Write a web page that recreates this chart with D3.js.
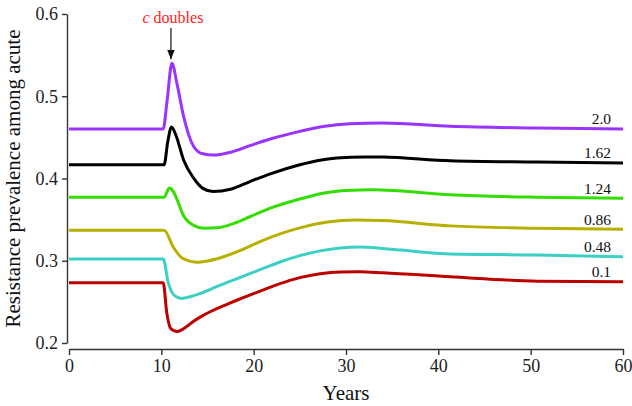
<!DOCTYPE html>
<html>
<head>
<meta charset="utf-8">
<script src="https://cdn.jsdelivr.net/npm/d3@7"></script>
<style>
  body { margin: 0; background: #fff; }
  svg { display: block; font-family: "Liberation Serif", "Times New Roman", serif; }
  .axis path, .axis line { stroke: #333; stroke-width: 1.4; }
  .axis text { fill: #222; font-family: "Liberation Serif", "Times New Roman", serif; font-size: 18px; }
</style>
</head>
<body>
<script>
// tick values
var xTicks = [0, 10, 20, 30, 40, 50, 60];
var yTicks = [0.2, 0.3, 0.4, 0.5, 0.6];

// series labels (value of the parameter) and colours
var seriesLabels = ["0.1", "0.48", "0.86", "1.24", "1.62", "2.0"];
var seriesColors = ["#bb0000", "#3ccfc6", "#b8b000", "#33dd00", "#000000", "#9933ff"];

// [year, resistance prevalence]
var s010 = [[0,0.2732],[10.2,0.2732],[10.6,0.2359],[11.0,0.218],[11.7,0.2140],[12.2,0.2160],[12.8,0.2205],
  [13.46,0.2262],[14.2,0.2315],[15.5,0.2392],[17.1,0.2470],[18.5,0.2535],[20.7,0.2630],[22.85,0.2722],
  [25,0.2795],[27.2,0.2843],[29.35,0.2864],[31.5,0.2866],[34,0.2854],[41.3,0.2805],[50.7,0.2752],[60,0.2744]];
var s048 = [[0,0.3021],[10.2,0.3021],[10.77,0.2724],[11.4,0.258],[12.2,0.2542],[13.2,0.2565],[14.2,0.2602],
  [16,0.2685],[18.5,0.2795],[20.7,0.2892],[22.85,0.2985],[25,0.3062],[27.2,0.3120],[29.35,0.3156],
  [31.5,0.3168],[34,0.3150],[36,0.313],[41.3,0.3082],[50.7,0.307],[60,0.3049]];
var s086 = [[0,0.337],[10.3,0.337],[11.3,0.3166],[12.3,0.303],[13.8,0.2983],[15,0.2998],[16.5,0.3040],
  [18.5,0.3122],[20.7,0.3232],[22.85,0.3326],[25,0.3400],[28,0.3470],[31,0.3495],[34,0.3488],[41.3,0.3424],
  [50.7,0.3395],[60,0.3383]];
var s124 = [[0,0.3772],[10.3,0.3772],[10.86,0.3883],[11.3,0.384],[11.66,0.3756],[12.4,0.355],[13.5,0.343],
  [14.6,0.3395],[16,0.340],[18,0.346],[19.6,0.3535],[21.8,0.3639],[25,0.375],[27.5,0.3820],[30,0.3855],
  [33,0.3862],[41.3,0.3801],[50.7,0.3772],[60,0.376]];
var s162 = [[0,0.4167],[10.3,0.4167],[10.7,0.445],[11.1,0.4627],[11.6,0.452],[12.4,0.4228],[13.5,0.4004],
  [14.5,0.388],[15.6,0.3841],[17.5,0.387],[19.6,0.3963],[21.8,0.4057],[25,0.4167],[27,0.4220],[29,0.4250],
  [32,0.4262],[34,0.426],[41.3,0.4216],[50.7,0.42],[60,0.4188]];
var s200 = [[0,0.4602],[10.2,0.4602],[10.6,0.492],[11.15,0.540],[11.7,0.515],[12.4,0.476],[13.5,0.439],
  [14.5,0.430],[15.6,0.4285],[17.5,0.432],[19.6,0.440],[21.8,0.448],[25,0.4573],[27.5,0.4632],[30.4,0.4667],
  [34,0.4675],[41.3,0.4634],[50.7,0.4614],[60,0.4602]];

var seriesData = [s010, s048, s086, s124, s162, s200];
var peakYear = 11.15, peakValue = 0.540;

var width = 632, height = 406;
var margin = { top: 14, right: 9, bottom: 63, left: 69 };
var serif = "'Liberation Serif', 'Times New Roman', serif";

var x = d3.scaleLinear().domain([0, 60]).range([margin.left, width - margin.right]);
var y = d3.scaleLinear().domain([0.2, 0.6]).range([height - margin.bottom, margin.top]);

var svg = d3.select("body").append("svg")
    .attr("width", width)
    .attr("height", height);

// axes, detached from each other
svg.append("g")
    .attr("class", "y axis")
    .attr("transform", "translate(" + (margin.left - 2) + ",0)")
    .call(d3.axisLeft(y).tickValues(yTicks).tickFormat(d3.format(".1f"))
        .tickSize(5).tickSizeOuter(0).tickPadding(4));

svg.append("g")
    .attr("class", "x axis")
    .attr("transform", "translate(0," + (height - margin.bottom + 6) + ")")
    .call(d3.axisBottom(x).tickValues(xTicks).tickFormat(d3.format("d"))
        .tickSize(6).tickSizeOuter(0).tickPadding(4));

svg.selectAll(".axis").attr("font-family", null).attr("font-size", null);
svg.selectAll(".axis text").style("font-family", serif).style("font-size", "18px");
svg.selectAll(".axis .domain").attr("fill", "none");

var line = d3.line()
    .x(function(d) { return x(d[0]); })
    .y(function(d) { return y(d[1]); })
    .curve(d3.curveMonotoneX);

svg.append("g").selectAll("path")
    .data(seriesData)
    .enter().append("path")
    .attr("d", line)
    .attr("fill", "none")
    .attr("stroke", function(d, i) { return seriesColors[i]; })
    .attr("stroke-width", 3);

svg.append("g").selectAll("text")
    .data(seriesData)
    .enter().append("text")
    .attr("x", x(60) - 12)
    .attr("y", function(d) { return y(d[d.length - 1][1]) - 10; })
    .attr("dy", "0.35em")
    .attr("text-anchor", "end")
    .style("font-size", "15.5px")
    .attr("fill", "#111")
    .text(function(d, i) { return seriesLabels[i]; });

// axis titles
svg.append("text")
    .attr("x", (x(0) + x(60)) / 2)
    .attr("y", 400)
    .attr("text-anchor", "middle")
    .style("font-size", "21px")
    .attr("fill", "#111")
    .text("Years");

svg.append("text")
    .attr("transform", "translate(20," + ((y(0.2) + y(0.6)) / 2) + ") rotate(-90)")
    .attr("text-anchor", "middle")
    .style("font-size", "21px")
    .attr("fill", "#111")
    .text("Resistance prevalence among acute");

// annotation
var defs = svg.append("defs");
defs.append("marker")
    .attr("id", "arrow")
    .attr("viewBox", "0 0 10 10")
    .attr("refX", 10).attr("refY", 5)
    .attr("markerWidth", 8).attr("markerHeight", 8)
    .attr("orient", "auto")
    .append("path")
    .attr("d", "M0,1L10,5L0,9Z")
    .attr("fill", "#111");

svg.append("line")
    .attr("x1", x(peakYear) - 1).attr("x2", x(peakYear) - 1)
    .attr("y1", 28).attr("y2", y(peakValue) - 4)
    .attr("stroke", "#111")
    .attr("stroke-width", 1.2)
    .attr("marker-end", "url(#arrow)");

var note = svg.append("text")
    .attr("x", x(peakYear) + 1)
    .attr("y", 23)
    .attr("text-anchor", "middle")
    .style("font-size", "16px")
    .attr("fill", "#ff2020");
note.append("tspan").style("font-style", "italic").text("c");
note.append("tspan").text(" doubles");
</script>
</body>
</html>
